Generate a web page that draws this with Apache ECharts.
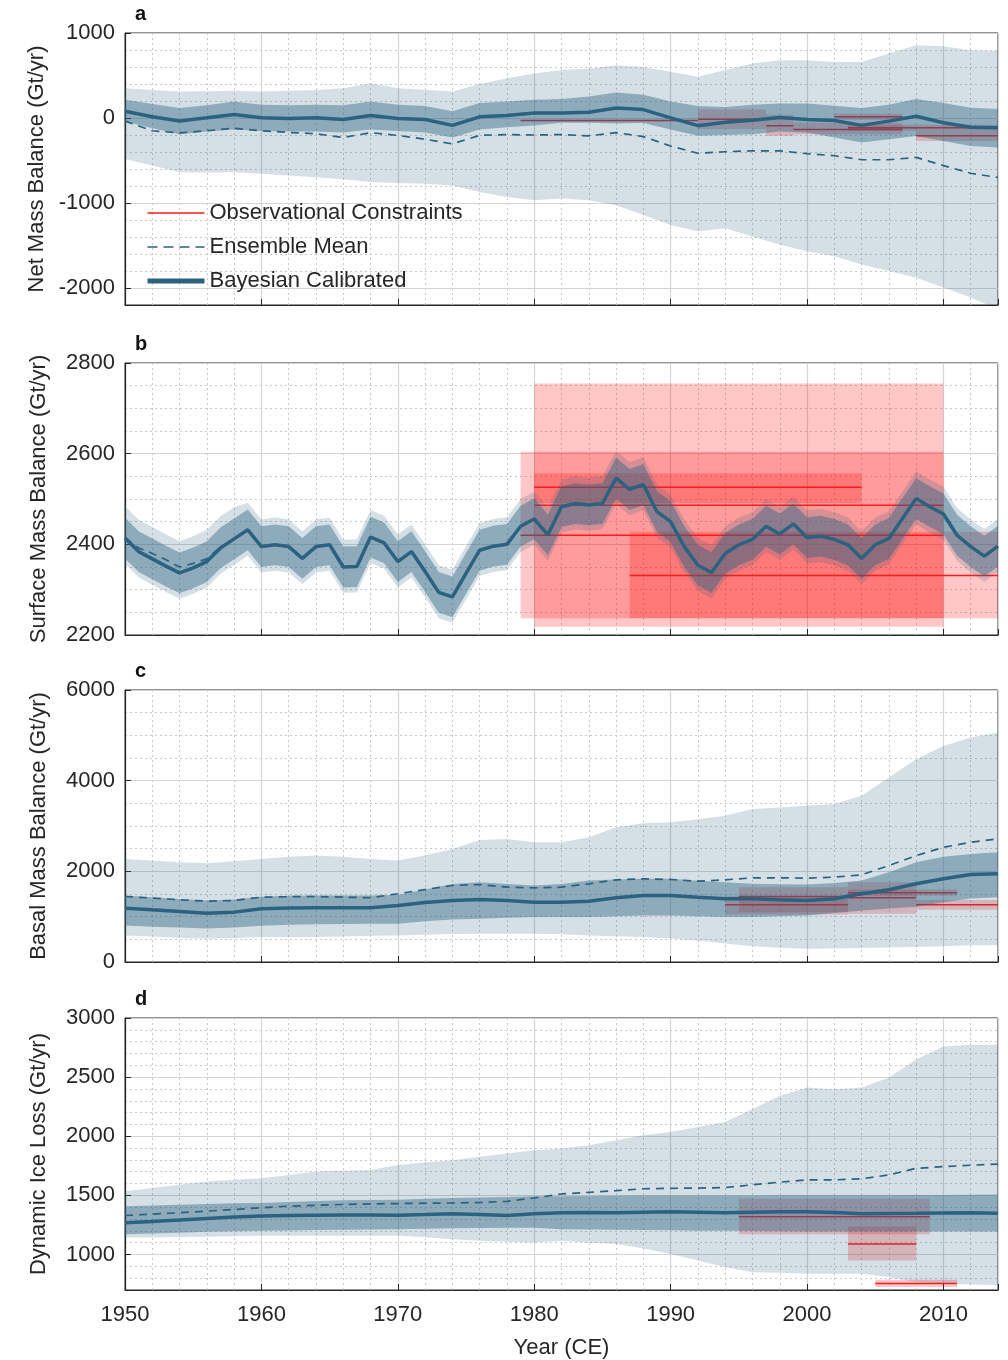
<!DOCTYPE html>
<html><head><meta charset="utf-8">
<script src="https://cdn.jsdelivr.net/npm/echarts@6/dist/echarts.min.js"></script>
<style>html,body{margin:0;padding:0;background:#fff}#c{width:1008px;height:1360px}</style>
</head><body><div id="c"></div>
<script>
// ---------------- DATA ----------------
const yearsBi = [1950,1952,1954,1956,1958,1960,1962,1964,1966,1968,1970,1972,1974,1976,1978,1980,1982,1984,1986,1988,1990,1992,1994,1996,1998,2000,2002,2004,2006,2008,2010,2012,2014];
const yearsAnnual = [1950,1951,1952,1953,1954,1955,1956,1957,1958,1959,1960,1961,1962,1963,1964,1965,1966,1967,1968,1969,1970,1971,1972,1973,1974,1975,1976,1977,1978,1979,1980,1981,1982,1983,1984,1985,1986,1987,1988,1989,1990,1991,1992,1993,1994,1995,1996,1997,1998,1999,2000,2001,2002,2003,2004,2005,2006,2007,2008,2009,2010,2011,2012,2013,2014];
const xTicks = [1950,1960,1970,1980,1990,2000,2010];

// Panel a: Net Mass Balance
const aTicks = [-2000,-1000,0,1000];
const aBayes = [79,15,-35,2,40,2,-6,2,-17,29,-6,-17,-87,14,29,60,60,67,118,99,2,-90,-49,-26,5,-17,-30,-87,-37,21,-56,-110,-114];
const aMean  = [-37,-150,-175,-150,-120,-150,-170,-185,-230,-172,-205,-250,-305,-204,-195,-200,-195,-210,-172,-219,-330,-415,-397,-386,-386,-420,-444,-491,-491,-463,-560,-650,-700];
const aCalHi = [215,165,119,150,195,157,150,157,150,195,157,140,79,177,195,215,223,253,300,273,195,140,130,157,170,170,145,119,157,223,177,120,105];
const aCalLo = [-40,-120,-190,-160,-134,-153,-160,-160,-170,-134,-153,-170,-230,-134,-110,-87,-56,-56,-64,-60,-134,-210,-200,-192,-160,-170,-230,-289,-250,-211,-270,-330,-347];
const aEnsHi = [351,330,312,315,320,312,320,330,351,409,350,331,312,400,467,525,564,580,622,600,544,486,564,642,680,680,660,660,758,855,843,797,789];
const aEnsLo = [-483,-560,-638,-640,-638,-657,-675,-696,-720,-754,-765,-773,-793,-870,-928,-967,-948,-967,-1026,-1142,-1258,-1335,-1297,-1393,-1491,-1568,-1626,-1723,-1800,-1878,-1994,-2111,-2250];
const aObsStart = [1979,1992,1997,1999,2002,2003,2008];
const aObsEnd   = [1992,1997,1999,2007,2007,2014,2014];
const aObsVal   = [-30,-15,-90,-135,15,-115,-210];
const aObsLo    = [-40,-130,-210,-190,-20,-150,-270];
const aObsHi    = [-20,100,40,-55,50,-80,-150];

// Panel b: Surface Mass Balance (annual)
const bTicks = [2200,2400,2600,2800];
const bBayes = [2414,2384,2368,2352,2337,2348,2362,2392,2412,2432,2395,2399,2395,2369,2395,2399,2350,2351,2416,2403,2362,2384,2340,2294,2284,2336,2387,2396,2400,2440,2456,2421,2483,2490,2487,2490,2546,2521,2532,2472,2450,2395,2354,2338,2380,2399,2411,2440,2423,2445,2415,2418,2411,2399,2369,2399,2413,2457,2501,2483,2467,2420,2395,2374,2396];
const bMean  = [2414,2392,2380,2366,2350,2358,2368,2394,2412,2432,2395,2399,2395,2369,2395,2399,2350,2351,2416,2403,2362,2384,2340,2294,2284,2336,2387,2396,2400,2440,2456,2421,2483,2490,2487,2490,2546,2521,2532,2472,2450,2395,2354,2338,2380,2399,2411,2440,2423,2445,2415,2418,2411,2399,2369,2399,2413,2457,2501,2483,2467,2420,2395,2374,2396];
const bCalHi = [2459,2429,2413,2397,2382,2393,2407,2437,2457,2477,2440,2444,2440,2414,2440,2444,2395,2396,2461,2448,2407,2429,2385,2339,2329,2381,2432,2441,2445,2485,2501,2466,2528,2535,2532,2535,2591,2566,2577,2517,2495,2440,2399,2383,2425,2444,2456,2485,2468,2490,2460,2463,2456,2444,2414,2444,2458,2502,2546,2528,2512,2465,2440,2419,2441];
const bCalLo = [2369,2339,2323,2307,2292,2303,2317,2347,2367,2387,2350,2354,2350,2324,2350,2354,2305,2306,2371,2358,2317,2339,2295,2249,2239,2291,2342,2351,2355,2395,2411,2376,2438,2445,2442,2445,2501,2476,2487,2427,2405,2350,2309,2293,2335,2354,2366,2395,2378,2400,2370,2373,2366,2354,2324,2354,2368,2412,2456,2438,2422,2375,2350,2329,2351];
const bEnsHi = [2484,2454,2438,2422,2407,2418,2432,2462,2482,2492,2455,2459,2455,2429,2455,2459,2410,2411,2476,2463,2422,2444,2400,2354,2344,2396,2447,2456,2460,2500,2516,2481,2543,2550,2547,2550,2606,2581,2592,2532,2510,2455,2414,2398,2440,2459,2471,2500,2483,2505,2475,2478,2471,2459,2429,2459,2473,2517,2561,2543,2527,2480,2455,2434,2456];
const bEnsLo = [2357,2327,2311,2295,2280,2291,2305,2335,2355,2375,2338,2342,2338,2312,2338,2342,2293,2294,2359,2346,2305,2327,2283,2237,2227,2279,2330,2339,2343,2383,2399,2364,2426,2433,2430,2433,2489,2464,2475,2415,2393,2338,2297,2281,2323,2342,2354,2383,2366,2388,2358,2361,2354,2342,2312,2342,2356,2400,2444,2426,2410,2363,2338,2317,2339];
const bObsStart = [1980,1980,1979,1987];
const bObsEnd   = [2004,2010,2010,2014];
const bObsVal   = [2526,2486,2420,2331];
const bObsLo    = [2491,2218,2237,2237];
const bObsHi    = [2557,2755,2604,2428];

// Panel c: Basal Mass Balance
const cTicks = [0,2000,4000,6000];
const cBayes = [1188,1150,1115,1078,1100,1174,1190,1196,1196,1196,1247,1310,1357,1379,1357,1320,1320,1342,1417,1467,1467,1430,1394,1394,1372,1357,1394,1505,1593,1725,1835,1929,1945];
const cMean  = [1445,1410,1372,1342,1357,1430,1440,1445,1430,1417,1505,1600,1687,1709,1650,1636,1650,1725,1813,1835,1820,1782,1813,1857,1857,1850,1872,1923,2127,2347,2530,2640,2715];
const cCalHi = [1467,1430,1390,1357,1380,1440,1460,1467,1467,1467,1480,1600,1720,1760,1720,1687,1720,1797,1820,1835,1835,1790,1760,1725,1715,1709,1740,1797,1980,2200,2320,2384,2420];
const cCalLo = [807,780,760,741,760,800,820,835,840,844,844,900,940,955,975,990,990,990,1010,1027,1027,1010,990,990,1010,1027,1080,1137,1180,1218,1320,1401,1430];
const cEnsHi = [2274,2240,2200,2178,2220,2274,2320,2347,2320,2274,2237,2350,2494,2692,2714,2640,2640,2750,2970,3058,3080,3150,3227,3374,3410,3447,3485,3667,4070,4475,4767,4950,5060];
const cEnsLo = [587,560,536,514,530,550,550,550,565,580,587,600,615,624,624,624,610,587,570,550,520,477,410,345,315,294,300,308,320,330,350,367,367];
const cObsStart = [1995,1994,2003,2003,2008];
const cObsEnd   = [2003,2003,2008,2011,2014];
const cObsVal   = [1445,1262,1420,1527,1262];
const cObsLo    = [1100,1050,1065,1460,1150];
const cObsHi    = [1650,1450,1760,1600,1370];

// Panel d: Dynamic Ice Loss
const dTicks = [1000,1500,2000,2500,3000];
const dBayes = [1269,1280,1292,1305,1317,1325,1330,1333,1335,1335,1333,1338,1344,1339,1330,1345,1353,1355,1353,1358,1361,1358,1353,1357,1361,1361,1355,1344,1346,1348,1352,1353,1348];
const dMean  = [1330,1342,1353,1367,1381,1395,1409,1416,1423,1428,1431,1434,1436,1440,1450,1478,1512,1526,1540,1556,1560,1562,1566,1590,1612,1631,1631,1640,1673,1729,1743,1755,1765];
const dCalHi = [1409,1415,1420,1428,1434,1436,1445,1452,1458,1462,1464,1472,1478,1482,1486,1492,1492,1495,1497,1500,1500,1500,1500,1500,1502,1502,1502,1502,1502,1504,1504,1506,1508];
const dCalLo = [1171,1178,1185,1192,1197,1200,1204,1208,1210,1212,1214,1218,1222,1225,1226,1227,1214,1212,1210,1207,1205,1202,1200,1198,1196,1194,1194,1194,1194,1194,1194,1194,1194];
const dEnsHi = [1534,1562,1590,1618,1632,1645,1672,1701,1708,1715,1757,1778,1798,1826,1855,1882,1896,1924,1966,2008,2036,2078,2120,2231,2342,2412,2398,2412,2496,2649,2760,2774,2774];
const dEnsLo = [1144,1144,1148,1150,1155,1158,1158,1158,1158,1158,1158,1145,1130,1116,1108,1102,1116,1100,1088,1050,1005,950,893,851,845,837,837,837,809,768,754,747,740];
const dObsStart = [1995,2003,2005];
const dObsEnd   = [2009,2008,2011];
const dObsVal   = [1319,1088,754];
const dObsLo    = [1171,949,726];
const dObsHi    = [1472,1236,787];

// ---------------- STYLE ----------------
const FONT = '"Liberation Sans", Arial, Helvetica, sans-serif';
const INK = '#262626';
const TEAL = '#2b6280';
const ENS_FILL = 'rgba(43,98,128,0.2)';
const CAL_FILL = 'rgba(43,98,128,0.42)';
const OBS_FILL = 'rgba(255,0,0,0.22)';
const OBS_LINE = '#ff1a1a';
const FS = 22;

const panels = [
  {label:'a', top:33,  height:272, ymin:-2200, ymax:1000, ticks:aTicks, split:3, minor:200, name:'Net Mass Balance (Gt/yr)',
   xs:yearsBi, bayes:aBayes, mean:aMean, calHi:aCalHi, calLo:aCalLo, ensHi:aEnsHi, ensLo:aEnsLo,
   obs:[aObsStart,aObsEnd,aObsVal,aObsLo,aObsHi]},
  {label:'b', top:363, height:272, ymin:2200, ymax:2800, ticks:bTicks, split:3, minor:50, name:'Surface Mass Balance (Gt/yr)',
   xs:yearsAnnual, bayes:bBayes, mean:bMean, calHi:bCalHi, calLo:bCalLo, ensHi:bEnsHi, ensLo:bEnsLo,
   obs:[bObsStart,bObsEnd,bObsVal,bObsLo,bObsHi]},
  {label:'c', top:690, height:272, ymin:0, ymax:6000, ticks:cTicks, split:3, minor:500, name:'Basal Mass Balance (Gt/yr)',
   xs:yearsBi, bayes:cBayes, mean:cMean, calHi:cCalHi, calLo:cCalLo, ensHi:cEnsHi, ensLo:cEnsLo,
   obs:[cObsStart,cObsEnd,cObsVal,cObsLo,cObsHi]},
  {label:'d', top:1018, height:273, ymin:700, ymax:3000, ticks:dTicks, split:5, minor:100, name:'Dynamic Ice Loss (Gt/yr)',
   xs:yearsBi, bayes:dBayes, mean:dMean, calHi:dCalHi, calLo:dCalLo, ensHi:dEnsHi, ensLo:dEnsLo,
   obs:[dObsStart,dObsEnd,dObsVal,dObsLo,dObsHi]}
];

const grid = [], xAxis = [], yAxis = [], series = [], graphic = [];
const pairs = (xs, ys) => xs.map((x, i) => [x, ys[i]]);

// band polygon drawn through the axes' scales (api.coord)
function bandSeries(gi, xs, lo, hi, fill) {
  return {
    type:'custom', xAxisIndex:2*gi, yAxisIndex:2*gi, silent:true, z:2, clip:true,
    data: xs.map((x, i) => [x, lo[i], hi[i]]),
    encode:{x:0, y:[1, 2]},
    renderItem: (params, api) => {
      if (params.dataIndex !== 0) return null;
      const pts = [];
      for (let i = 0; i < xs.length; i++) pts.push(api.coord([xs[i], hi[i]]));
      for (let i = xs.length - 1; i >= 0; i--) pts.push(api.coord([xs[i], lo[i]]));
      const cs = params.coordSys;
      return {type:'group', clipPath:{type:'rect', shape:{x:cs.x, y:cs.y, width:cs.width, height:cs.height}},
        children:[{type:'polygon', shape:{points:pts}, style:{fill:fill, stroke:null}}]};
    }
  };
}

panels.forEach((p, gi) => {
  const last = gi === panels.length - 1;
  grid.push({left:125, width:873, top:p.top, height:p.height, show:true, borderColor:INK, borderWidth:1, containLabel:false});
  xAxis.push({gridIndex:gi, type:'value', min:1950, max:2014, interval:10, position:'bottom',
    axisLine:{show:true, onZero:false, lineStyle:{color:INK, width:1.2}},
    axisTick:{show:true, inside:true, length:6, lineStyle:{color:INK}},
    axisLabel:{show:last, margin:14, fontSize:FS, fontFamily:FONT, color:INK,
      formatter: v => xTicks.indexOf(v) >= 0 ? String(v) : ''},
    splitLine:{show:true, lineStyle:{color:'#d4d4d4', width:1.2, type:'solid'}},
    name: last ? 'Year (CE)' : '', nameLocation:'middle', nameGap:47,
    nameTextStyle:{fontSize:FS, fontFamily:FONT, color:INK}, z:1});
  xAxis.push({gridIndex:gi, type:'value', min:1950, max:2014, interval:2, position:'bottom',
    axisLine:{show:false}, axisTick:{show:false}, axisLabel:{show:false},
    splitLine:{show:true, lineStyle:{color:'#c8c8c8', width:1, type:[2,3]}}, z:0});
  yAxis.push({gridIndex:gi, type:'value', min:p.ymin, max:p.ymax, splitNumber:p.split, position:'left',
    axisLine:{show:true, onZero:false, lineStyle:{color:INK, width:1.2}},
    axisTick:{show:true, inside:true, length:6, lineStyle:{color:INK}},
    axisLabel:{show:true, margin:10, fontSize:FS, fontFamily:FONT, color:INK,
      formatter: v => p.ticks.indexOf(v) >= 0 ? String(v) : ''},
    splitLine:{show:true, lineStyle:{color:'#d4d4d4', width:1.2, type:'solid'}},
    name:p.name, nameLocation:'middle', nameGap:75,
    nameTextStyle:{fontSize:FS, fontFamily:FONT, color:INK}, z:1});
  yAxis.push({gridIndex:gi, type:'value', min:p.ymin, max:p.ymax, interval:p.minor, position:'left',
    axisLine:{show:false}, axisTick:{show:false}, axisLabel:{show:false},
    splitLine:{show:true, lineStyle:{color:'#c8c8c8', width:1, type:[2,3]}}, z:0});

  const xi = 2 * gi, yi = 2 * gi;
  const [st, en, val, lo, hi] = p.obs;
  const segs = [];
  st.forEach((s, i) => { segs.push([s, val[i]]); segs.push([en[i], val[i]]); segs.push([en[i], '-']); });
  series.push({name:'Observational Constraints', type:'line', xAxisIndex:xi, yAxisIndex:yi, data:segs,
    symbol:'none', connectNulls:false, z:1, silent:true,
    lineStyle:{color:OBS_LINE, width:1.5}, itemStyle:{color:OBS_LINE},
    markArea:{silent:true, itemStyle:{color:OBS_FILL, borderWidth:0}, label:{show:false},
      data: st.map((s, i) => [{coord:[s, lo[i]]}, {coord:[en[i], hi[i]]}])}});
  series.push(bandSeries(gi, p.xs, p.ensLo, p.ensHi, ENS_FILL));
  series.push(bandSeries(gi, p.xs, p.calLo, p.calHi, CAL_FILL));
  series.push({name:'Ensemble Mean', type:'line', xAxisIndex:xi, yAxisIndex:yi, data:pairs(p.xs, p.mean),
    symbol:'none', z:3, silent:true, lineStyle:{color:TEAL, width:1.7, type:[8,6]}, itemStyle:{color:TEAL}});
  series.push({name:'Bayesian Calibrated', type:'line', xAxisIndex:xi, yAxisIndex:yi, data:pairs(p.xs, p.bayes),
    symbol:'none', z:4, silent:true, lineStyle:{color:TEAL, width:3.5}, itemStyle:{color:TEAL}});

  graphic.push({type:'text', left:135, top:p.top - 29, style:{text:p.label, font:'bold 20px ' + FONT, fill:'#111'}});
});

const chart = echarts.init(document.getElementById('c'), null, {renderer:'canvas'});
chart.setOption({
  animation:false,
  backgroundColor:'#ffffff',
  grid, xAxis, yAxis, series, graphic,
  legend:{show:true, orient:'vertical', left:145, top:202, padding:0, itemGap:12, itemWidth:57, itemHeight:20,
    selectedMode:false, itemStyle:{opacity:0},
    data:[
      {name:'Observational Constraints', lineStyle:{color:OBS_LINE, width:1.5}},
      {name:'Ensemble Mean', lineStyle:{color:TEAL, width:1.7, type:[10,6]}},
      {name:'Bayesian Calibrated', lineStyle:{color:TEAL, width:5}}
    ],
    textStyle:{fontSize:FS, fontFamily:FONT, color:INK}}
});
</script>
</body></html>
